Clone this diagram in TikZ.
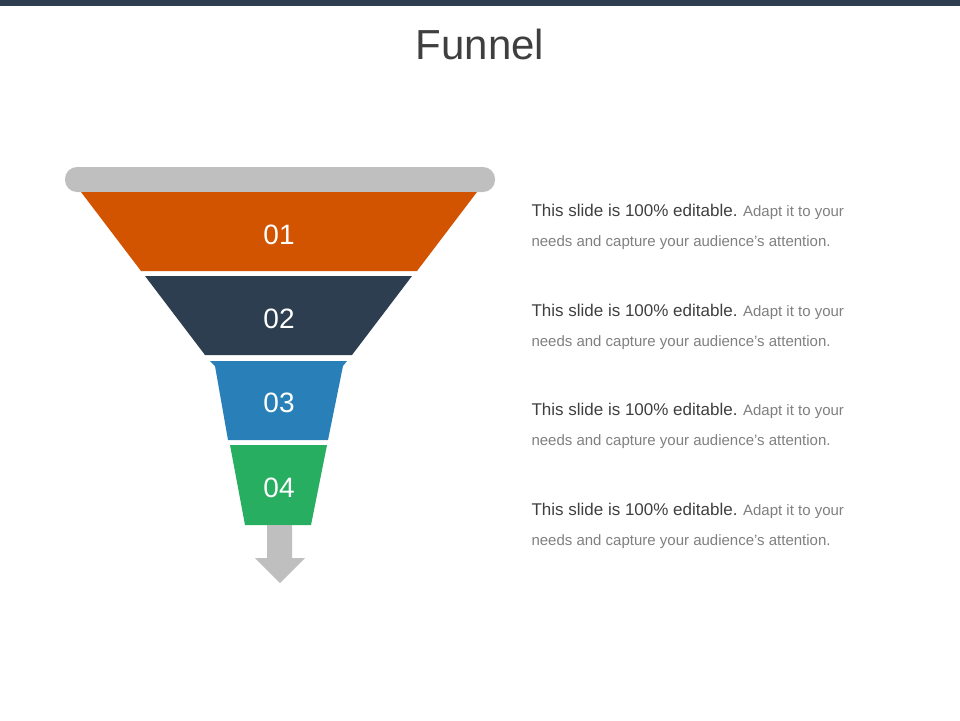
\documentclass[tikz,border=0pt]{standalone}
\usepackage{fontspec}
\setmainfont{Liberation Sans}
\definecolor{navy}{HTML}{2D3E50}
\definecolor{org}{HTML}{D35400}
\definecolor{blu}{HTML}{2980B9}
\definecolor{grn}{HTML}{27AE60}
\definecolor{gry}{HTML}{BFBFBF}
\definecolor{txt}{HTML}{3F3F3F}
\definecolor{txt2}{HTML}{7F7F7F}
\begin{document}
\begin{tikzpicture}[x=1pt,y=-1pt,
  num/.style={text=white,font=\fontsize{28}{30}\selectfont},
  desc/.style={anchor=west,align=left,text=txt2,font=\fontsize{15}{30}\selectfont}]
\useasboundingbox (0,0) rectangle (960,720);
\fill[navy] (0,0) rectangle (960,6);
\node[text=txt,font=\fontsize{42}{44}\selectfont] (title) at (480,44) {Funnel};
\fill[gry,rounded corners=12pt] (65,167) rectangle (495,192);
\fill[org] (81,192) -- (477,192) -- (417,271) -- (141,271) -- cycle;
\fill[navy] (145,276) -- (412,276) -- (352,355) -- (205,355) -- cycle;
\fill[blu] (210,361) -- (347,361) -- (343,366) -- (328,440) -- (228,440) -- (215,366) -- cycle;
\fill[grn] (230,445) -- (327,445) -- (311,525) -- (245,525) -- cycle;
\fill[gry] (267,525) -- (292,525) -- (292,558) -- (305,558) -- (280,583) -- (255,558) -- (267,558) -- cycle;
\node[num] (n1) at (279,235) {01};
\node[num] (n2) at (279,319) {02};
\node[num] (n3) at (279,403) {03};
\node[num] (n4) at (279,488) {04};
\foreach \i/\y in {1/227,2/327,3/426,4/526}{
  \node[desc] (d\i) at (528,\y) {{\color{txt}\fontsize{17}{30}\selectfont This slide is 100\% editable.} Adapt it to your\\needs and capture your audience's attention.};
}
\end{tikzpicture}
\end{document}
